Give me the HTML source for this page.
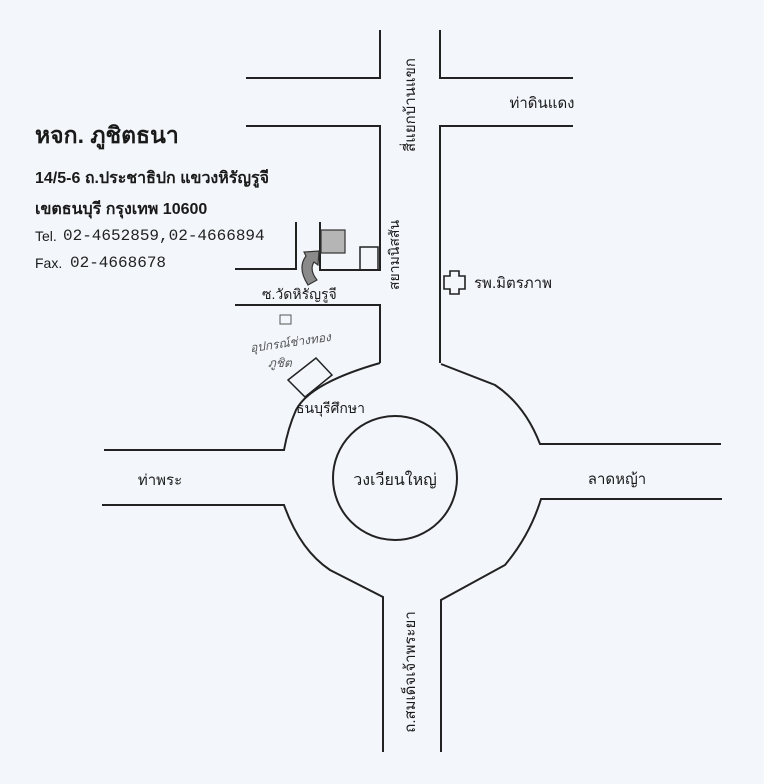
<!DOCTYPE html>
<html><head><meta charset="utf-8"><style>
html,body{margin:0;padding:0;background:#f3f6fb;}
svg{display:block}
.t{font-family:"Liberation Sans","Noto Sans CJK SC",sans-serif;fill:#1a1a1a}
.m{font-family:"Liberation Mono","DejaVu Sans Mono",monospace;fill:#222}
</style></head><body>
<svg width="764" height="784" viewBox="0 0 764 784" xmlns="http://www.w3.org/2000/svg">
<rect width="764" height="784" fill="#f3f6fb"/>
<g fill="none" stroke="#222" stroke-width="2">
<path d="M246 78 H380 V30"/>
<path d="M440 30 V78 H573"/>
<path d="M246 126 H380 V270 H320 V222"/>
<path d="M235 269 H296 V222"/>
<path d="M235 305 H380 V363"/>
<path d="M573 126 H440 V363"/>
<path d="M380 363 Q310 383 296 410 Q288 428 284 450 H104"/>
<path d="M441 364 L495 385 Q525 405 540 444 H721"/>
<path d="M102 505 H284 Q300 550 330 570 L383 597 V752"/>
<path d="M722 499 H541 Q530 535 505 565 L441 600 V752"/>
<circle cx="395" cy="478" r="62"/>
<rect x="360" y="247" width="18" height="23" stroke-width="1.5"/>
<path d="M288 380 L316 358 L332 375 L305 397 Z" stroke-width="1.5"/>
<path d="M444 276 H450 V271 H459 V276 H465 V289 H459 V294 H450 V289 H444 Z" stroke-width="1.6"/>
</g>
<rect x="321" y="230" width="24" height="23" fill="#b5b5b5" stroke="#333" stroke-width="1.2"/>
<path d="M308 285 Q297 268 306 256 L304 252 L319 251 L318 265 L314 262 Q309 270 317 280 Z" fill="#8a8a8a" stroke="#333" stroke-width="1.2"/>
<text class="t" x="35" y="143" font-size="23" font-weight="bold">หจก. ภูชิตธนา</text>
<text class="t" x="35" y="183" font-size="16" font-weight="bold">14/5-6 ถ.ประชาธิปก แขวงหิรัญรูจี</text>
<text class="t" x="35" y="214" font-size="16" font-weight="bold">เขตธนบุรี กรุงเทพ 10600</text>
<text class="t" x="35" y="241" font-size="14">Tel.</text>
<text class="m" x="63" y="240" font-size="16">02-4652859,02-4666894</text>
<text class="t" x="35" y="268" font-size="14">Fax.</text>
<text class="m" x="70" y="267" font-size="16">02-4668678</text>
<text class="t" x="542" y="108" font-size="15" text-anchor="middle">ท่าดินแดง</text>
<text class="t" x="474" y="288" font-size="15">รพ.มิตรภาพ</text>
<text class="t" x="262" y="299" font-size="14">ซ.วัดหิรัญรูจี</text>
<text class="t" x="296" y="413" font-size="14">ธนบุรีศึกษา</text>
<text class="t" x="160" y="485" font-size="15" text-anchor="middle">ท่าพระ</text>
<text class="t" x="617" y="484" font-size="15" text-anchor="middle">ลาดหญ้า</text>
<text class="t" x="395" y="485" font-size="16" text-anchor="middle">วงเวียนใหญ่</text>
<text class="t" font-size="15" text-anchor="middle" transform="translate(415,105) rotate(-90)">สี่แยกบ้านแขก</text>
<text class="t" font-size="14" text-anchor="middle" transform="translate(399,255) rotate(-90)">สยามนิสสัน</text>
<text class="t" font-size="15" text-anchor="middle" transform="translate(415,672) rotate(-90)">ถ.สมเด็จเจ้าพระยา</text>
<text x="250" y="348" font-size="12" fill="#555" font-style="italic" font-family="'Liberation Serif','Noto Sans CJK SC',serif" transform="rotate(-8 280 345)">อุปกรณ์ช่างทอง</text>
<text x="268" y="367" font-size="12" fill="#555" font-style="italic" font-family="'Liberation Serif','Noto Sans CJK SC',serif">ภูชิต</text>
<rect x="280" y="315" width="11" height="9" fill="none" stroke="#555" stroke-width="1"/>
</svg>
</body></html>
